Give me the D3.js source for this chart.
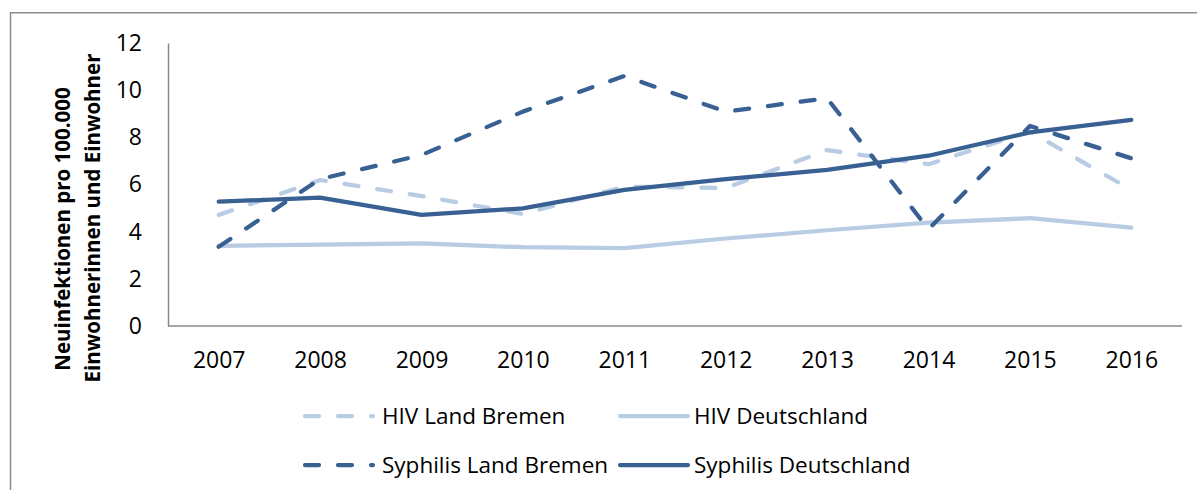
<!DOCTYPE html>
<html>
<head>
<meta charset="utf-8">
<script src="https://cdn.jsdelivr.net/npm/d3@7"></script>
<style>
  html, body { margin: 0; padding: 0; background: #fff; }
  svg { display: block; }
  text { font-family: "Open Sans", "Noto Sans", sans-serif; fill: #000; }
</style>
</head>
<body>
<svg id="chart" width="1197" height="490"></svg>
<script>
// Neuinfektionen pro 100.000 Einwohner, 2007–2016
const years = ["2007", "2008", "2009", "2010", "2011", "2012", "2013", "2014", "2015", "2016"];
const hivBremen      = [4.71, 6.19, 5.51, 4.75, 5.91, 5.85, 7.46, 6.86, 8.24, 5.77];
const hivDeutschland = [3.40, 3.45, 3.50, 3.34, 3.30, 3.71, 4.06, 4.38, 4.57, 4.17];
const syphBremen     = [3.36, 6.23, 7.25, 9.09, 10.60, 9.09, 9.66, 4.10, 8.48, 7.11];
const syphDeutschland= [5.27, 5.44, 4.71, 4.99, 5.77, 6.23, 6.62, 7.22, 8.21, 8.74];
const yTicks = [0, 2, 4, 6, 8, 10, 12];
const yTitle = ["Neuinfektionen pro 100.000", "Einwohnerinnen und Einwohner"];

const DARK = "#386093";
const LIGHT = "#b8cce4";
const DASH = "14,19";

const series = [
  { name: "HIV Land Bremen",      values: hivBremen,       color: LIGHT, dash: DASH },
  { name: "HIV Deutschland",      values: hivDeutschland,  color: LIGHT, dash: null },
  { name: "Syphilis Land Bremen", values: syphBremen,      color: DARK,  dash: DASH },
  { name: "Syphilis Deutschland", values: syphDeutschland, color: DARK,  dash: null }
];

const svg = d3.select("#chart");

// outer frame (top and left edges)
svg.append("path")
  .attr("d", "M10.5,490 L10.5,12.75 L1197,12.75")
  .attr("fill", "none")
  .attr("stroke", "#8c8c8c")
  .attr("stroke-width", 1.5);

const plot = { left: 168, right: 1182, top: 43, bottom: 326 };

const x = d3.scalePoint().domain(years).range([plot.left, plot.right]).padding(0.5);
const y = d3.scaleLinear().domain([0, 12]).range([plot.bottom, plot.top]);

// y axis
const yAxis = svg.append("g")
  .attr("transform", `translate(${plot.left},0)`)
  .call(d3.axisLeft(y).tickValues(yTicks).tickSize(0).tickPadding(26));
yAxis.select(".domain").attr("stroke", "#8a8a8a").attr("stroke-width", 1.5);
yAxis.selectAll("text").style("font-size", "23px").attr("font-family", null);

// x axis
const xAxis = svg.append("g")
  .attr("transform", `translate(0,${plot.bottom})`)
  .call(d3.axisBottom(x).tickSize(0));
xAxis.select(".domain").attr("stroke", "#8a8a8a").attr("stroke-width", 1.5)
  .attr("d", `M${plot.left},0H${plot.right}`);
xAxis.selectAll("text").style("font-size", "23px").attr("font-family", null)
  .attr("y", 42).attr("dy", 0);

// y axis title, two rotated lines
const titleLines = [
  { text: yTitle[0], bx: 70, cy: 229 },
  { text: yTitle[1], bx: 100, cy: 218 }
];
svg.selectAll("text.ytitle").data(titleLines).join("text")
  .attr("class", "ytitle")
  .attr("transform", d => `translate(${d.bx},${d.cy}) rotate(-90)`)
  .attr("text-anchor", "middle")
  .style("font-size", "20.5px")
  .style("font-weight", "bold")
  .text(d => d.text);

// series lines
const line = d3.line()
  .x((d, i) => x(years[i]))
  .y(d => y(d));

svg.append("g").selectAll("path").data(series).join("path")
  .attr("d", d => line(d.values))
  .attr("fill", "none")
  .attr("stroke", d => d.color)
  .attr("stroke-width", 4.25)
  .attr("stroke-linecap", "round")
  .attr("stroke-linejoin", "round")
  .attr("stroke-dasharray", d => d.dash);

// legend, two columns by two rows
const legendPos = [
  { sx: 305, tx: 382, cy: 416 },
  { sx: 620, tx: 694, cy: 416 },
  { sx: 305, tx: 382, cy: 465 },
  { sx: 620, tx: 694, cy: 465 }
];
const legend = svg.append("g").selectAll("g").data(series).join("g");
legend.append("line")
  .attr("x1", (d, i) => legendPos[i].sx)
  .attr("x2", (d, i) => legendPos[i].sx + 68)
  .attr("y1", (d, i) => legendPos[i].cy)
  .attr("y2", (d, i) => legendPos[i].cy)
  .attr("stroke", d => d.color)
  .attr("stroke-width", 4.25)
  .attr("stroke-linecap", "round")
  .attr("stroke-dasharray", d => d.dash);
legend.append("text")
  .attr("x", (d, i) => legendPos[i].tx)
  .attr("y", (d, i) => legendPos[i].cy)
  .attr("dy", "0.36em")
  .style("font-size", "22.5px")
  .text(d => d.name);
</script>
</body>
</html>
